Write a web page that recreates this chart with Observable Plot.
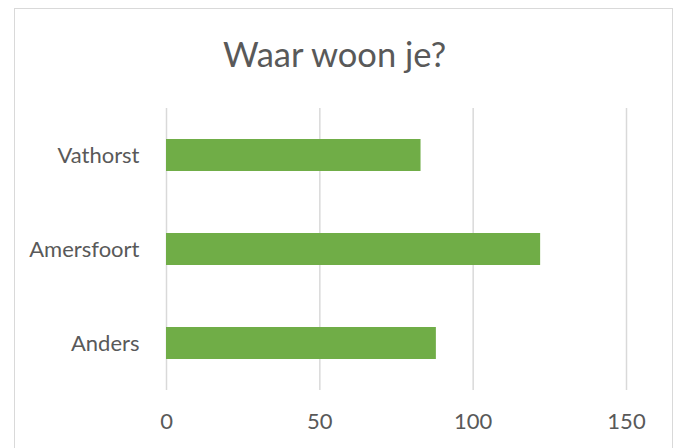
<!DOCTYPE html>
<html>
<head>
<meta charset="utf-8">
<script src="https://cdn.jsdelivr.net/npm/d3@7"></script>
<script src="https://cdn.jsdelivr.net/npm/@observablehq/plot@0.6"></script>
<style>
  html, body { margin: 0; padding: 0; background: #fff; }
  #wrap { position: relative; width: 683px; height: 448px; overflow: hidden; }
  #border { position: absolute; left: 14px; top: 8px; width: 659px; height: 460px; border: 1.6px solid #d9d9d9; box-sizing: border-box; }
  #chart { position: absolute; left: 0; top: 0; }
</style>
</head>
<body>
<div id="wrap"><div id="border"></div><div id="chart"></div></div>
<script>
const title = "Waar woon je?";
const categories = ["Vathorst", "Amersfoort", "Anders"];
const values = [83, 122, 88];
const xTicks = [0, 50, 100, 150];

const data = categories.map((c, i) => ({category: c, value: values[i]}));
const textColor = "#595959";
const font = "Lato, 'Open Sans', sans-serif";

const chart = Plot.plot({
  width: 683,
  height: 448,
  marginLeft: 166,
  marginRight: 57,
  marginTop: 108,
  marginBottom: 58,
  style: {fontFamily: font, color: textColor, background: "transparent", overflow: "visible"},
  x: {domain: [0, 150], ticks: xTicks},
  y: {domain: categories, paddingInner: 0.663, paddingOuter: 0.3315},
  marks: [
    Plot.gridX(xTicks, {stroke: "#d9d9d9", strokeOpacity: 1, strokeWidth: 1.5}),
    Plot.barX(data, {y: "category", x: "value", fill: "#70ad47"}),
    Plot.axisX(xTicks, {tickSize: 0, tickPadding: 23, fontSize: 22, fill: textColor, label: null}),
    Plot.axisY({tickSize: 0, tickPadding: 27, fontSize: 22, fill: textColor, label: null}),
    Plot.text([title], {frameAnchor: "top", dx: -62, dy: -53, lineAnchor: "middle", fontSize: 34.5, fill: textColor, text: d => d})
  ]
});
document.getElementById("chart").appendChild(chart);
</script>
</body>
</html>
